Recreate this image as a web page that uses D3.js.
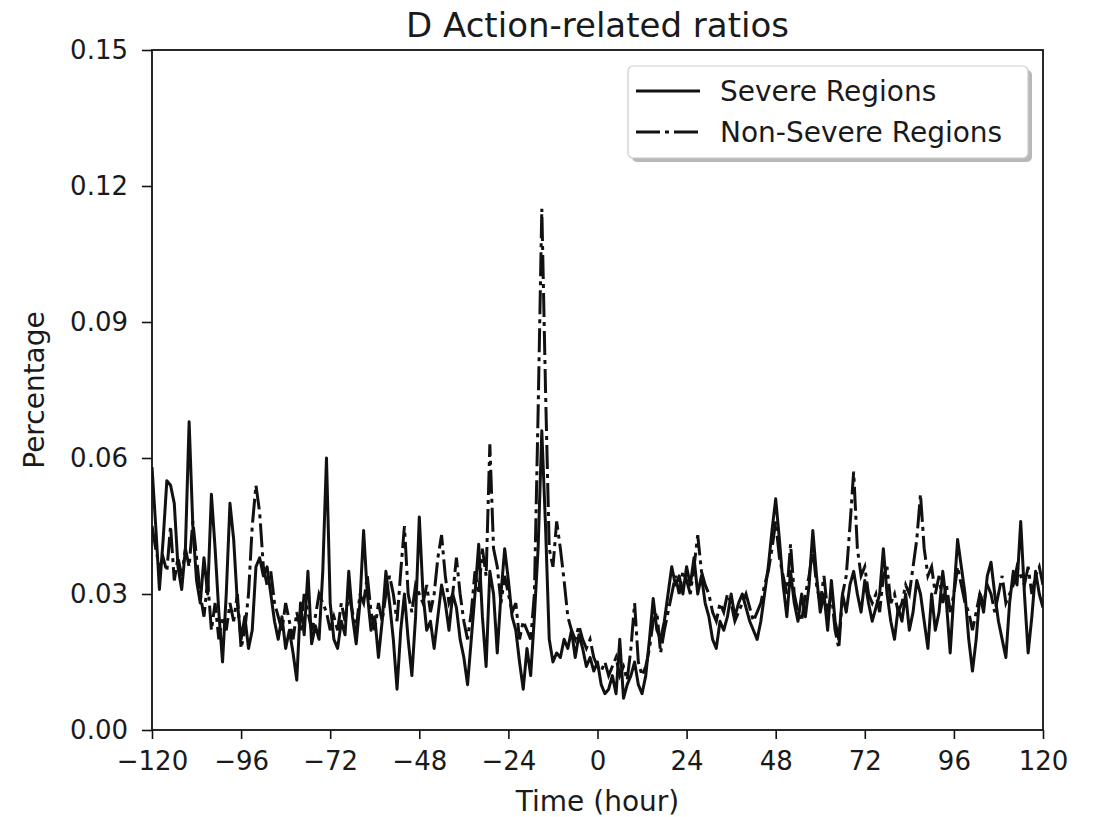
<!DOCTYPE html>
<html>
<head>
<meta charset="utf-8">
<script src="https://cdn.jsdelivr.net/npm/d3@7"></script>
<style>
  html, body { margin: 0; padding: 0; background: #fff; }
  svg { display: block; }
  text { font-family: "DejaVu Sans", sans-serif; fill: #1a1a1a; }
</style>
</head>
<body>
<svg id="chart" width="1094" height="817"></svg>
<script>
// ---- data (hour -120 .. 120) ----
const hours = d3.range(-120, 121);
const severe = [
  0.058,0.045,0.031,0.042,0.055,0.054,0.050,0.036,0.031,0.040, // -120..-111
  0.068,0.045,0.033,0.028,0.038,0.030,0.052,0.040,0.026,0.015, // -110..-101
  0.030,0.050,0.042,0.028,0.020,0.025,0.018,0.022,0.036,0.038, // -100..-91
  0.034,0.036,0.030,0.024,0.020,0.025,0.018,0.022,0.017,0.011, // -90..-81
  0.028,0.021,0.035,0.019,0.023,0.020,0.035,0.060,0.028,0.020, // -80..-71
  0.018,0.024,0.021,0.035,0.025,0.019,0.028,0.044,0.030,0.022, // -70..-61
  0.025,0.016,0.024,0.035,0.028,0.020,0.009,0.022,0.030,0.020, // -60..-51
  0.012,0.025,0.047,0.030,0.022,0.024,0.018,0.025,0.032,0.028, // -50..-41
  0.022,0.030,0.027,0.020,0.016,0.010,0.020,0.030,0.041,0.025, // -40..-31
  0.014,0.035,0.030,0.017,0.030,0.040,0.033,0.025,0.022,0.015, // -30..-21
  0.009,0.018,0.012,0.025,0.040,0.066,0.045,0.020,0.015,0.017, // -20..-11
  0.016,0.020,0.018,0.022,0.016,0.021,0.018,0.014,0.016,0.013, // -10..-1
  0.015,0.010,0.008,0.009,0.012,0.008,0.020,0.007,0.010,0.012, // 0..9
  0.015,0.010,0.008,0.012,0.020,0.029,0.022,0.020,0.024,0.030, // 10..19
  0.036,0.032,0.034,0.030,0.036,0.032,0.038,0.030,0.034,0.028, // 20..29
  0.025,0.020,0.018,0.024,0.022,0.025,0.030,0.025,0.028,0.030, // 30..39
  0.027,0.024,0.022,0.020,0.024,0.030,0.036,0.044,0.051,0.042, // 40..49
  0.032,0.025,0.035,0.028,0.024,0.030,0.025,0.032,0.044,0.034, // 50..59
  0.026,0.030,0.022,0.033,0.024,0.020,0.030,0.026,0.032,0.035, // 60..69
  0.030,0.026,0.033,0.028,0.024,0.027,0.030,0.040,0.030,0.024, // 70..79
  0.020,0.027,0.024,0.030,0.022,0.026,0.033,0.030,0.024,0.018, // 80..89
  0.030,0.022,0.026,0.035,0.028,0.017,0.030,0.042,0.036,0.030, // 90..99
  0.020,0.013,0.020,0.030,0.026,0.034,0.037,0.030,0.024,0.020, // 100..109
  0.016,0.028,0.035,0.032,0.046,0.030,0.017,0.025,0.035,0.030, // 110..119
  0.027                                                        // 120
];
const nonSevere = [
  0.045,0.040,0.036,0.038,0.035,0.045,0.033,0.038,0.034,0.040, // -120..-111
  0.036,0.046,0.038,0.030,0.025,0.033,0.022,0.028,0.020,0.025, // -110..-101
  0.022,0.028,0.024,0.030,0.018,0.022,0.030,0.045,0.054,0.048, // -100..-91
  0.036,0.032,0.035,0.028,0.025,0.022,0.028,0.024,0.020,0.026, // -90..-81
  0.022,0.030,0.026,0.022,0.025,0.030,0.028,0.026,0.022,0.025, // -80..-71
  0.022,0.028,0.024,0.030,0.026,0.022,0.030,0.028,0.034,0.026, // -70..-61
  0.022,0.028,0.024,0.030,0.034,0.030,0.024,0.035,0.045,0.030, // -60..-51
  0.026,0.032,0.030,0.028,0.032,0.026,0.030,0.038,0.043,0.034, // -50..-41
  0.028,0.030,0.038,0.030,0.024,0.020,0.026,0.035,0.030,0.040, // -40..-31
  0.034,0.063,0.040,0.036,0.028,0.034,0.030,0.026,0.028,0.020, // -30..-21
  0.024,0.022,0.020,0.030,0.070,0.115,0.075,0.040,0.036,0.046, // -20..-11
  0.040,0.033,0.025,0.022,0.020,0.023,0.020,0.018,0.020,0.016, // -10..-1
  0.014,0.013,0.015,0.012,0.014,0.016,0.012,0.014,0.011,0.018, // 0..9
  0.028,0.015,0.012,0.014,0.018,0.024,0.026,0.017,0.022,0.026, // 10..19
  0.030,0.034,0.030,0.035,0.033,0.030,0.036,0.043,0.035,0.032, // 20..29
  0.030,0.026,0.024,0.028,0.026,0.030,0.028,0.024,0.026,0.028, // 30..39
  0.030,0.027,0.024,0.026,0.028,0.032,0.035,0.040,0.046,0.038, // 40..49
  0.034,0.030,0.041,0.030,0.026,0.024,0.030,0.034,0.040,0.032, // 50..59
  0.028,0.034,0.026,0.030,0.022,0.018,0.030,0.034,0.045,0.057, // 60..69
  0.040,0.034,0.036,0.030,0.028,0.030,0.026,0.034,0.036,0.028, // 70..79
  0.030,0.026,0.028,0.032,0.030,0.036,0.042,0.052,0.040,0.034, // 80..89
  0.036,0.030,0.034,0.028,0.032,0.026,0.030,0.036,0.032,0.028, // 90..99
  0.026,0.022,0.026,0.030,0.028,0.032,0.030,0.026,0.030,0.034, // 100..109
  0.028,0.030,0.032,0.036,0.034,0.032,0.036,0.030,0.034,0.036, // 110..119
  0.032                                                        // 120
];
const xTicks = [-120, -96, -72, -48, -24, 0, 24, 48, 72, 96, 120];
const yTicks = [0.00, 0.03, 0.06, 0.09, 0.12, 0.15];
const seriesNames = ["Severe Regions", "Non-Severe Regions"];
const titleText = "D Action-related ratios";
const xLabel = "Time (hour)";
const yLabel = "Percentage";

// ---- layout ----
const svg = d3.select("#chart");
const L = 152, R = 1043, T = 50, B = 730;
const x = d3.scaleLinear().domain([-120, 120]).range([L, R]);
const y = d3.scaleLinear().domain([0, 0.15]).range([B, T]);
const ink = "#111";
const dashDot = "24,5,4,5";

const line = d3.line().x((d, i) => x(hours[i])).y(d => y(d));

svg.append("clipPath").attr("id", "plotclip")
  .append("rect").attr("x", L).attr("y", T).attr("width", R - L).attr("height", B - T);

const plot = svg.append("g").attr("clip-path", "url(#plotclip)");
plot.append("path").datum(severe).attr("d", line)
  .attr("fill", "none").attr("stroke", ink).attr("stroke-width", 3).attr("stroke-linejoin", "round");
plot.append("path").datum(nonSevere).attr("d", line)
  .attr("fill", "none").attr("stroke", ink).attr("stroke-width", 3)
  .attr("stroke-dasharray", dashDot);

// axes
const xAxis = d3.axisBottom(x).tickValues(xTicks).tickSize(9).tickPadding(13)
  .tickFormat(d => d < 0 ? "\u2212" + Math.abs(d) : String(d));
const yAxis = d3.axisLeft(y).tickValues(yTicks).tickSize(10).tickPadding(14)
  .tickFormat(d3.format(".2f"));

const gx = svg.append("g").attr("transform", `translate(0,${B})`).call(xAxis);
const gy = svg.append("g").attr("transform", `translate(${L},0)`).call(yAxis);
[gx, gy].forEach(g => {
  g.select(".domain").remove();
  g.selectAll(".tick line").attr("stroke", ink).attr("stroke-width", 1.6);
  g.selectAll(".tick text").style("font-size", "26px").attr("fill", "#1a1a1a");
});

// frame
svg.append("rect").attr("x", L).attr("y", T).attr("width", R - L).attr("height", B - T)
  .attr("fill", "none").attr("stroke", ink).attr("stroke-width", 1.8);

// title & labels
svg.append("text").attr("x", (L + R) / 2).attr("y", 37).attr("text-anchor", "middle")
  .style("font-size", "34px").text(titleText);
svg.append("text").attr("x", (L + R) / 2).attr("y", 811).attr("text-anchor", "middle")
  .style("font-size", "28px").text(xLabel);
svg.append("text").attr("transform", `translate(44,${(T + B) / 2}) rotate(-90)`)
  .attr("text-anchor", "middle").style("font-size", "28px").text(yLabel);

// legend
const lg = svg.append("g").attr("transform", "translate(628,66)");
lg.append("rect").attr("x", 4).attr("y", 4).attr("width", 400).attr("height", 92)
  .attr("rx", 5).attr("fill", "#888").attr("opacity", 0.6);
lg.append("rect").attr("x", 0).attr("y", 0).attr("width", 400).attr("height", 92)
  .attr("rx", 5).attr("fill", "#fff").attr("stroke", "#ccc").attr("stroke-width", 1.2);
const items = [{name: seriesNames[0], dash: null}, {name: seriesNames[1], dash: dashDot}];
items.forEach((it, i) => {
  const yy = 25 + i * 41;
  const ln = lg.append("line").attr("x1", 8).attr("x2", 72).attr("y1", yy).attr("y2", yy)
    .attr("stroke", ink).attr("stroke-width", 3);
  if (it.dash) ln.attr("stroke-dasharray", it.dash);
  lg.append("text").attr("x", 92).attr("y", yy + 10).style("font-size", "28px").text(it.name);
});
</script>
</body>
</html>
